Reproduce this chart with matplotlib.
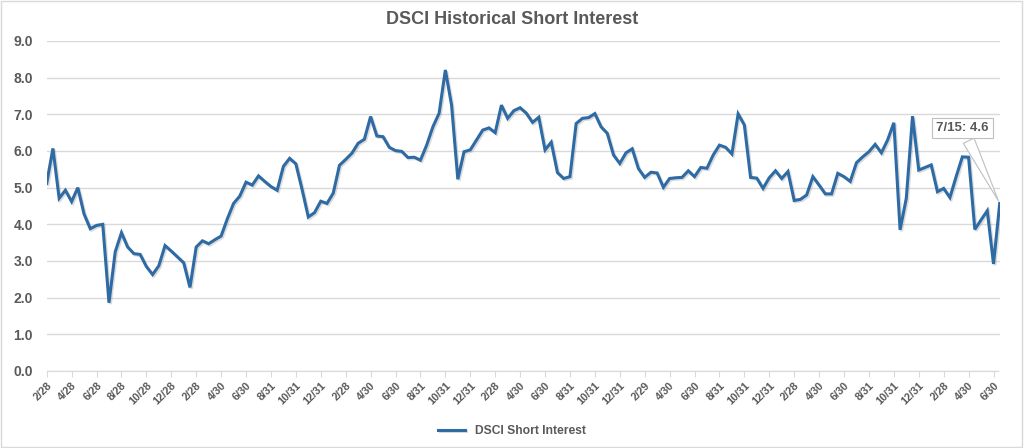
import matplotlib
matplotlib.use("Agg")
import matplotlib.pyplot as plt
import matplotlib.patheffects as pe
from matplotlib.patches import Rectangle

plt.rcParams['font.family'] = ['Liberation Sans', 'DejaVu Sans']

# short interest, semi-monthly readings
short_interest = [
    5.12, 6.07, 4.71, 4.93, 4.62, 5.00, 4.28, 3.88, 3.97, 4.00,
    1.86, 3.25, 3.77, 3.38, 3.20, 3.18, 2.85, 2.63, 2.87, 3.42,
    3.27, 3.11, 2.95, 2.28, 3.38, 3.55, 3.47, 3.58, 3.68, 4.15,
    4.57, 4.77, 5.15, 5.07, 5.32, 5.17, 5.03, 4.93, 5.58, 5.80,
    5.65, 4.95, 4.20, 4.32, 4.63, 4.57, 4.85, 5.61, 5.77, 5.94,
    6.21, 6.32, 6.94, 6.41, 6.39, 6.10, 6.01, 5.99, 5.82, 5.83,
    5.75, 6.16, 6.66, 7.03, 8.21, 7.25, 5.23, 5.98, 6.03, 6.30,
    6.57, 6.63, 6.50, 7.25, 6.89, 7.10, 7.18, 7.03, 6.78, 6.92,
    6.03, 6.24, 5.41, 5.25, 5.30, 6.75, 6.89, 6.91, 7.02, 6.66,
    6.48, 5.89, 5.66, 5.95, 6.06, 5.52, 5.28, 5.42, 5.40, 5.01,
    5.25, 5.27, 5.28, 5.46, 5.30, 5.55, 5.53, 5.89, 6.16, 6.10,
    5.92, 7.01, 6.71, 5.28, 5.26, 4.98, 5.27, 5.46, 5.25, 5.44,
    4.65, 4.68, 4.80, 5.30, 5.07, 4.83, 4.83, 5.39, 5.30, 5.17,
    5.68, 5.84, 5.98, 6.18, 5.95, 6.30, 6.77, 3.85, 4.71, 6.95,
    5.48, 5.55, 5.62, 4.89, 4.98, 4.73, 5.30, 5.84, 5.83, 3.86,
    4.12, 4.37, 2.92, 4.57,
]

# axis labels, one every fourth reading
tick_labels = [
    '2/28', '4/28', '6/28', '8/28', '10/28', '12/28',
    '2/28', '4/30', '6/30', '8/31', '10/31', '12/31',
    '2/28', '4/30', '6/30', '8/31', '10/31', '12/31',
    '2/28', '4/30', '6/30', '8/31', '10/31', '12/31',
    '2/29', '4/30', '6/30', '8/31', '10/31', '12/31',
    '2/28', '4/30', '6/30', '8/31', '10/31', '12/31',
    '2/28', '4/30', '6/30',
]
last_label = '7/15'

grey_text = '#595959'
line_blue = '#2E6BA5'

fig = plt.figure(figsize=(10.24, 4.48), dpi=100)
ax = fig.add_axes([0.0456, 0.1719, 0.9307, 0.7366])

x = list(range(len(short_interest)))
ax.plot(x, short_interest, color=line_blue, linewidth=2.2, solid_joinstyle='miter',
        label='DSCI Short Interest',
        path_effects=[pe.SimpleLineShadow(offset=(1, -1), shadow_color='#999999', alpha=0.35),
                      pe.Normal()])

ax.set_xlim(0, len(short_interest) - 1)
ax.set_ylim(0, 9)
ax.set_yticks([i * 1.0 for i in range(10)])
ax.set_yticklabels([f'{v:.1f}' for v in ax.get_yticks()])
ax.set_xticks(x[::4])
ax.set_xticklabels(tick_labels, rotation=45, ha='right', rotation_mode='anchor')

# grid and spines
ax.grid(axis='y', color='#d9d9d9', linewidth=1)
ax.set_axisbelow(True)
for side in ['left', 'right', 'top']:
    ax.spines[side].set_visible(False)
ax.spines['bottom'].set_color('#d9d9d9')
ax.spines['bottom'].set_bounds(0, len(short_interest) - 1.3)
ax.tick_params(axis='y', length=0, pad=10, labelsize=10, labelcolor=grey_text)
ax.tick_params(axis='x', length=4, color='#d9d9d9', pad=3, labelsize=7.8, labelcolor=grey_text)
for lab in ax.get_xticklabels() + ax.get_yticklabels():
    lab.set_fontweight('bold')

# callout for the latest reading
ax.annotate(f'{last_label}: {short_interest[-1]:.1f}',
            xy=(x[-1], short_interest[-1]), xytext=(147.0, 6.63),
            ha='center', va='center', fontsize=9.5, fontweight='bold', color=grey_text,
            bbox=dict(boxstyle='square,pad=0.3', fc='white', ec='#bfbfbf', lw=0.8),
            arrowprops=dict(arrowstyle='wedge,tail_width=0.9,shrink_factor=0.5',
                            fc='white', ec='#bfbfbf', lw=0.8))

fig.suptitle('DSCI Historical Short Interest', x=0.5, y=0.975, fontsize=13,
             fontweight='bold', color=grey_text)

leg = fig.legend(loc='center', bbox_to_anchor=(0.5, 0.038), frameon=False,
                 handlelength=2.2, fontsize=8.7)
for t in leg.get_texts():
    t.set_color(grey_text)
    t.set_fontweight('bold')

# light frame round the whole chart
fig.patches.append(Rectangle((0.001, 0.002), 0.997, 0.995, transform=fig.transFigure,
                             fill=False, ec='#d9d9d9', lw=1))

fig.savefig('out.png', dpi=100)
